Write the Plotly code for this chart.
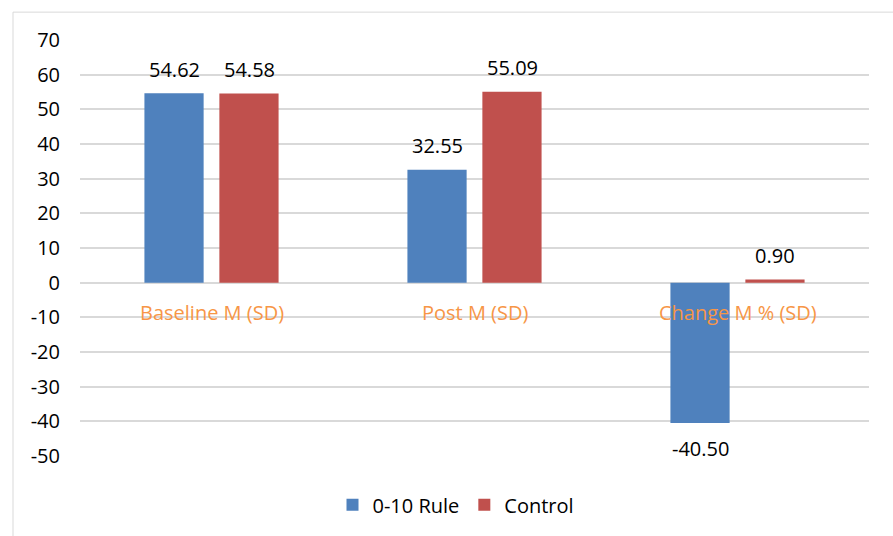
import plotly.graph_objects as go

categories = ["Baseline M (SD)", "Post M (SD)", "Change M % (SD)"]
rule_values = [54.62, 32.55, -40.50]
control_values = [54.58, 55.09, 0.90]
series_names = ["0-10 Rule", "Control"]
y_ticks = [70, 60, 50, 40, 30, 20, 10, 0, -10, -20, -30, -40, -50]

BLUE = "#4F81BD"
RED = "#C0504D"
ORANGE = "#F79646"
GRID = "#D9D9D9"
FONT = "Open Sans"
FS = 20

W, H = 893, 536
L, R, T, B = 80, 24, 40, 78
pw, ph = W - L - R, H - T - B

fig = go.Figure()
fig.add_trace(go.Bar(x=categories, y=rule_values, name=series_names[0],
                     marker=dict(color=BLUE, line=dict(width=0))))
fig.add_trace(go.Bar(x=categories, y=control_values, name=series_names[1],
                     marker=dict(color=RED, line=dict(width=0))))

annotations = []
# value labels sit a fixed distance beyond the end of each bar
for idx, (vals, off) in enumerate([(rule_values, -0.5), (control_values, 0.5)]):
    for ci, v in enumerate(vals):
        annotations.append(dict(
            x=ci, y=v, xref="x", yref="y", xshift=off * 75,
            yshift=24 if v >= 0 else -25,
            text=f"{v:.2f}", showarrow=False, yanchor="middle",
            font=dict(family=FONT, size=FS, color="#000000")))
# category labels just under the zero line
for ci, c in enumerate(categories):
    annotations.append(dict(
        x=ci, y=0, xref="x", yref="y", yshift=-30, text=c,
        showarrow=False, yanchor="middle",
        font=dict(family=FONT, size=FS, color=ORANGE)))

fig.update_layout(
    width=W, height=H,
    margin=dict(l=L, r=R, t=T, b=B),
    paper_bgcolor="white", plot_bgcolor="white",
    barmode="group", bargap=0.43, bargroupgap=0.21,
    showlegend=True,
    legend=dict(orientation="h", x=(456 - L) / pw, xanchor="center",
                y=(H - B - 507) / ph, yanchor="middle",
                font=dict(family=FONT, size=FS, color="#000000"),
                itemwidth=30, traceorder="normal"),
    annotations=annotations,
    shapes=[dict(type="line", xref="paper", yref="paper",
                 x0=(13 - L) / pw, x1=(W + 5 - L) / pw,
                 y0=(H - B - 12) / ph, y1=(H - B - 12) / ph,
                 line=dict(color=GRID, width=1)),
            dict(type="line", xref="paper", yref="paper",
                 x0=(13 - L) / pw, x1=(13 - L) / pw,
                 y0=(H - B - 12) / ph, y1=(H - B - H - 5) / ph,
                 line=dict(color=GRID, width=1))],
)
fig.update_xaxes(showticklabels=False, showgrid=False, zeroline=False,
                 showline=False, ticks="")
fig.update_yaxes(range=[-50, 70], tickvals=y_ticks, ticktext=[str(t) for t in y_ticks],
                 showgrid=True, gridcolor=GRID, gridwidth=1.5,
                 zeroline=True, zerolinecolor=GRID, zerolinewidth=1.5,
                 showline=False, ticks="", ticklabelstandoff=19,
                 tickfont=dict(family=FONT, size=FS, color="#000000"))

fig.write_html("out.html")
